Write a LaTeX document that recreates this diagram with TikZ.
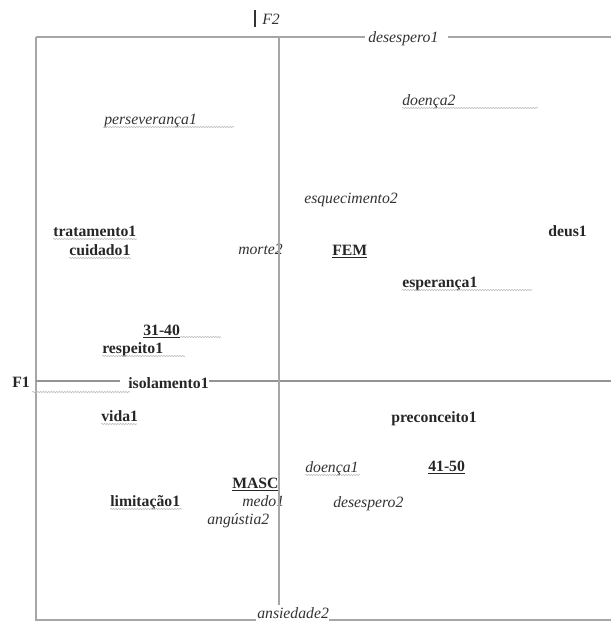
\documentclass[tikz,border=0pt]{standalone}
\usepackage{fontspec}
\setmainfont{Liberation Serif}
\usetikzlibrary{decorations.pathmorphing}

\begin{document}
\begin{tikzpicture}[x=0.75pt,y=-0.75pt,
    axis/.style={gray!70, line width=0.8pt},
    modal/.style={anchor=base west, inner sep=0pt, text=black!85,
      font=\fontsize{11.8}{14}\selectfont\bfseries},
    word/.style={anchor=base west, inner sep=0pt, text=black!80,
      font=\fontsize{11.8}{14}\selectfont\itshape},
    spell/.style={gray!55, line width=0.4pt, decorate,
      decoration={snake, amplitude=0.5pt, segment length=2pt}}]
    \useasboundingbox (0,0) rectangle (611,622);

    % Axis labels
    \node[word] (f2) at (262,24) {F2};
    \node[modal] (f1) at (12,387) {F1};

    % Modalities (italic)
    \node[word] (desesp1) at (368,42) {desespero1};
    \node[word] (doenca2) at (402,105) {doença2};
    \node[word] (persev1) at (104,124) {perseverança1};
    \node[word] (esquec2) at (304,203) {esquecimento2};
    \node[word] (morte2) at (238,254) {morte2};
    \node[word] (doenca1) at (305,472) {doença1};
    \node[word] (medo1) at (242,506) {medo1};
    \node[word] (desesp2) at (333,507) {desespero2};
    \node[word] (angust2) at (207,524) {angústia2};
    \node[word] (ansied2) at (257,618) {ansiedade2};

    % Modalities (bold)
    \node[modal] (trat1) at (53,236) {tratamento1};
    \node[modal] (deus1) at (548,236) {deus1};
    \node[modal] (cuid1) at (69,255) {cuidado1};
    \node[modal] (fem) at (332,255) {\underline{FEM}};
    \node[modal] (esper1) at (402,287) {esperança1};
    \node[modal] (a3140) at (143,335) {\underline{31-40}};
    \node[modal] (resp1) at (102,353) {respeito1};
    \node[modal] (isol1) at (128,388) {isolamento1};
    \node[modal] (vida1) at (101,421) {vida1};
    \node[modal] (precon1) at (391,422) {preconceito1};
    \node[modal] (a4150) at (428,471) {\underline{41-50}};
    \node[modal] (masc) at (232,488) {\underline{MASC}};
    \node[modal] (limit1) at (110,506) {limitação1};

    % Frame and axes
    \coordinate (tl) at (36,37);
    \coordinate (tr) at (611,37);
    \coordinate (bl) at (36,620);
    \coordinate (br) at (611,620);
    \coordinate (ol) at (36,381);
    \coordinate (or) at (611,381);
    \coordinate (vt) at (279,37);
    \coordinate (vb) at (279,605);
    \draw[axis] (tl) -- ([xshift=-2pt]tl -| desesp1.west);
    \draw[axis] ([xshift=7pt]tr -| desesp1.east) -- (tr);
    \draw[axis] (tl) -- (bl) -- ([xshift=-1pt]bl -| ansied2.west);
    \draw[axis] (bl -| ansied2.east) -- (br);
    \draw[axis, gray!85] (ol) -- ([xshift=-6pt]ol -| isol1.west);
    \draw[axis, gray!85] (ol -| isol1.east) -- (or);
    \draw[axis] (vt) -- (vb);
    \draw[line width=1.6pt, black!80] (255,10) -- (255,27);

    % Spelling marks
    \foreach \n/\w in {persev1/130, doenca2/136, trat1/84, cuid1/62, resp1/83,
                       esper1/130, vida1/36, limit1/72, doenca1/55}
      \draw[spell] (\n.base west) ++(0,3) -- ++(\w,0);
    \draw[spell] (a3140.base east) ++(0,2) -- ++(41,0);
    \draw[spell] (f1.base east) ++(2,5) -- ++(98,0);
\end{tikzpicture}
\end{document}
